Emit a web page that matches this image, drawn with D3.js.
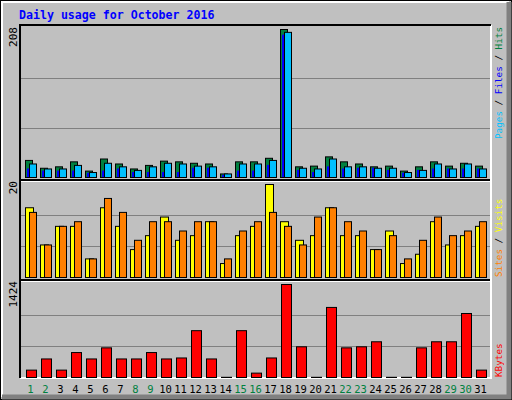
<!DOCTYPE html>
<html>
<head>
<meta charset="utf-8">
<script src="https://cdn.jsdelivr.net/npm/d3@7"></script>
<style>
  body { margin: 0; background: #fff; }
  text { font-family: "DejaVu Sans Mono", monospace; }
</style>
</head>
<body>
<svg width="512" height="400"></svg>
<script>
let days = d3.range(1, 32);
let weekends = [1, 2, 8, 9, 15, 16, 22, 23, 29, 30];

let hits   = [24, 13, 15, 22, 9, 26, 19, 12, 17, 23, 22, 20, 19, 5, 22, 22, 27, 208, 15, 16, 29, 22, 19, 15, 16, 9, 15, 22, 16, 20, 16];
let files  = [19, 12, 12, 17, 7, 20, 15, 10, 15, 20, 19, 16, 15, 5, 19, 19, 24, 204, 13, 12, 26, 15, 15, 13, 13, 7, 10, 19, 12, 19, 12];
let pages  = [12, 9, 9, 9, 6, 9, 12, 7, 7, 7, 7, 13, 13, 3, 9, 9, 17, 200, 10, 7, 15, 12, 13, 13, 10, 6, 10, 12, 12, 12, 12];
let visits = [15, 7, 11, 11, 4, 15, 11, 6, 9, 13, 8, 9, 12, 3, 9, 11, 20, 12, 8, 9, 15, 9, 9, 6, 10, 3, 5, 12, 7, 9, 11];
let sites  = [14, 7, 11, 12, 4, 17, 14, 8, 12, 12, 10, 12, 12, 4, 10, 12, 14, 11, 7, 13, 15, 12, 10, 6, 9, 4, 8, 13, 9, 10, 12];
let kbytes = [113, 284, 113, 382, 284, 454, 284, 284, 382, 284, 299, 717, 284, 3, 717, 67, 299, 1424, 470, 3, 1073, 454, 470, 547, 3, 3, 454, 547, 547, 980, 113];

let maxHits = 208, maxVisits = 20, maxKbytes = 1424;

let svg = d3.select("svg");

// frame
svg.append("rect").attr("x", 0.5).attr("y", 0.5).attr("width", 511).attr("height", 399)
  .attr("fill", "#c0c0c0").attr("stroke", "#000");
svg.append("path").attr("d", "M2,397V2H509").attr("fill", "none").attr("stroke", "#fff").attr("stroke-width", 2);
svg.append("path").attr("d", "M509,2V397H2").attr("fill", "none").attr("stroke", "#808080").attr("stroke-width", 5);

svg.append("text").attr("x", 19).attr("y", 19)
  .attr("fill", "#0000ff").attr("font-weight", "bold").attr("font-size", 11.6)
  .text("Daily usage for October 2016");

let x = d3.scaleBand().domain(days).range([22, 487]);

let panels = [
  { top: 26, bottom: 180, y: d3.scaleLinear().domain([0, maxHits]).range([177, 29]), label: maxHits },
  { top: 180, bottom: 280, y: d3.scaleLinear().domain([0, maxVisits]).range([277, 184]), label: maxVisits },
  { top: 280, bottom: 378, y: d3.scaleLinear().domain([0, maxKbytes]).range([377, 284]), label: maxKbytes }
];

// plot area
svg.append("rect").attr("x", 20).attr("y", 25).attr("width", 471).attr("height", 353).attr("fill", "#c0c0c0");
svg.append("path").attr("d", "M491,25V378H20").attr("fill", "none").attr("stroke", "#fff").attr("stroke-width", 2);
svg.append("path").attr("d", "M20,378V25H491").attr("fill", "none").attr("stroke", "#000").attr("stroke-width", 2);

panels.forEach((p, i) => {
  let base = p.y(0), topv = p.y.range()[1];
  [1, 2].forEach(k => {
    let gy = Math.round(base - (base - topv) * k / 3) + 0.5;
    svg.append("line").attr("x1", 21).attr("x2", 490).attr("y1", gy).attr("y2", gy)
      .attr("stroke", "#808080");
  });
  if (i > 0) {
    svg.append("line").attr("x1", 21).attr("x2", 490).attr("y1", p.top).attr("y2", p.top)
      .attr("stroke", "#000").attr("stroke-width", 2);
    svg.append("line").attr("x1", 21).attr("x2", 490).attr("y1", p.top + 1.5).attr("y2", p.top + 1.5)
      .attr("stroke", "#fff").attr("stroke-width", 1);
  }
  svg.append("text").attr("transform", `translate(17,${p.top + 1}) rotate(-90)`)
    .attr("text-anchor", "end").attr("font-size", 11).attr("fill", "#000").text(p.label);
});

let drawBars = (vals, yScale, off, w, color) => {
  svg.append("g").selectAll("rect").data(vals).enter().append("rect")
    .attr("x", (d, i) => x(days[i]) + off + 0.5)
    .attr("y", d => yScale(d) + 0.5)
    .attr("width", w)
    .attr("height", d => yScale(0) - yScale(d))
    .attr("fill", color).attr("stroke", "#000");
};

drawBars(hits, panels[0].y, 3, 7, "#008040");
drawBars(files, panels[0].y, 7, 7, "#00c0ff");
svg.append("g").selectAll("rect").data(pages).enter().append("rect")
  .attr("x", (d, i) => x(days[i]) + 5)
  .attr("y", d => panels[0].y(d))
  .attr("width", 2)
  .attr("height", d => panels[0].y(0) - panels[0].y(d))
  .attr("fill", "#0000ff");
drawBars(visits, panels[1].y, 3, 8, "#ffff00");
drawBars(sites, panels[1].y, 7, 7, "#ff8000");
drawBars(kbytes, panels[2].y, 4, 10, "#ff0000");

// day labels
svg.append("g").selectAll("text").data(days).enter().append("text")
  .attr("x", d => x(d) + x.bandwidth() / 2 + 1)
  .attr("y", 393)
  .attr("text-anchor", "middle").attr("font-size", 10.5)
  .attr("fill", d => weekends.includes(d) ? "#008040" : "#000")
  .text(d => d);

// right labels
let rightLabel = (ty, anchor, parts) => {
  let t = svg.append("text").attr("transform", `translate(502,${ty}) rotate(-90)`)
    .attr("text-anchor", anchor).attr("font-size", 9.3);
  parts.forEach(([s, c]) => t.append("tspan").attr("fill", c).text(s));
};
rightLabel(27, "end", [["Pages", "#00c0ff"], [" / ", "#000"], ["Files", "#0000ff"], [" / ", "#000"], ["Hits", "#008040"]]);
rightLabel(277, "start", [["Sites", "#ff8000"], [" / ", "#000"], ["Visits", "#ffff00"]]);
rightLabel(377, "start", [["KBytes", "#ff0000"]]);
</script>
</body>
</html>
